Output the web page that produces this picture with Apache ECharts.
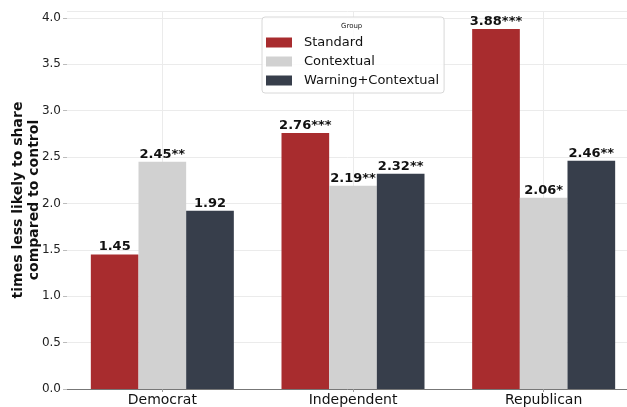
<!DOCTYPE html>
<html>
<head>
<meta charset="utf-8">
<script src="https://cdn.jsdelivr.net/npm/echarts@6/dist/echarts.min.js"></script>
<style>
  html, body { margin: 0; padding: 0; background: #fff; }
  #chart { width: 627px; height: 407px; }
</style>
</head>
<body>
<div id="chart"></div>
<script>
// Party groups and per-condition effect sizes
var categories = ['Democrat', 'Independent', 'Republican'];
var seriesNames = ['Standard', 'Contextual', 'Warning+Contextual'];
var standardValues = [1.45, 2.76, 3.88];
var standardStars = ['', '***', '***'];
var contextualValues = [2.45, 2.19, 2.06];
var contextualStars = ['**', '**', '*'];
var warningValues = [1.92, 2.32, 2.46];
var warningStars = ['', '**', '**'];
var yTicks = [0, 0.5, 1, 1.5, 2, 2.5, 3, 3.5, 4];

var colors = ['#a82c2e', '#d1d1d1', '#373e4b'];
var font = 'DejaVu Sans';

// helper axis: 2n+1 points across the plot, odd ones sit at the category centres
var centreSlots = [];
for (var i = 0; i < categories.length * 2 + 1; i++) centreSlots.push(i);

function barSeries(name, values, stars, color) {
  return {
    name: name,
    type: 'bar',
    z: 3,
    data: values,
    itemStyle: { color: color },
    barWidth: '25%',
    barGap: '0%',
    label: {
      show: true,
      position: 'top',
      distance: 1,
      fontFamily: font,
      fontWeight: 'bold',
      fontSize: 13,
      color: '#111',
      formatter: function (p) { return values[p.dataIndex].toFixed(2) + stars[p.dataIndex]; }
    }
  };
}

var chart = echarts.init(document.getElementById('chart'), null, { renderer: 'canvas' });
chart.setOption({
  animation: false,
  backgroundColor: '#ffffff',
  textStyle: { fontFamily: font },
  title: {
    text: 'Group',
    left: 341,
    top: 23,
    padding: 0,
    textStyle: { fontFamily: font, fontSize: 7, fontWeight: 'normal', color: '#222' }
  },
  legend: {
    data: seriesNames,
    orient: 'vertical',
    left: 262,
    top: 17,
    padding: [19, 5, 6, 4],
    itemGap: 6,
    itemWidth: 26,
    itemHeight: 10,
    icon: 'rect',
    backgroundColor: 'rgba(255,255,255,0.85)',
    borderColor: '#d8d8d8',
    borderWidth: 1,
    borderRadius: 3,
    selectedMode: false,
    textStyle: { fontFamily: font, fontSize: 13, color: '#111', padding: [0, 0, 0, 7] }
  },
  grid: { left: 67, right: -12, top: 11, bottom: 18, containLabel: false, outerBoundsMode: 'none' },
  xAxis: [
    {
      type: 'category',
      data: categories,
      axisLine: { lineStyle: { color: '#777', width: 1 } },
      axisTick: { show: true, alignWithLabel: true, length: 3, lineStyle: { color: '#999' } },
      axisLabel: { fontFamily: font, fontSize: 14, color: '#111', margin: 4 },
      splitLine: { show: false }
    },
    {
      type: 'category',
      data: centreSlots,
      boundaryGap: false,
      position: 'bottom',
      axisLine: { show: false },
      axisTick: { show: false },
      axisLabel: { show: false },
      splitLine: {
        show: true,
        interval: function (idx) { return idx % 2 === 1; },
        lineStyle: { color: '#ebebeb', width: 1 }
      }
    }
  ],
  yAxis: {
    type: 'value',
    min: 0,
    max: 4.074,
    interval: 0.5,
    name: 'times less likely to share\ncompared to control',
    nameLocation: 'middle',
    nameGap: 25,
    nameMoveOverlap: false,
    nameTextStyle: { fontFamily: font, fontSize: 14, fontWeight: 'bold', color: '#111', lineHeight: 16 },
    axisLine: { show: false },
    axisTick: { show: true, length: 4, lineStyle: { color: '#bbb' } },
    axisLabel: {
      fontFamily: font, fontSize: 12, color: '#222', margin: 6, showMaxLabel: false,
      formatter: function (v) { return yTicks.indexOf(v) >= 0 ? v.toFixed(1) : ''; }
    },
    splitLine: { show: true, lineStyle: { color: '#ebebeb', width: 1 } }
  },
  series: [
    barSeries(seriesNames[0], standardValues, standardStars, colors[0]),
    barSeries(seriesNames[1], contextualValues, contextualStars, colors[1]),
    barSeries(seriesNames[2], warningValues, warningStars, colors[2])
  ]
});
</script>
</body>
</html>
